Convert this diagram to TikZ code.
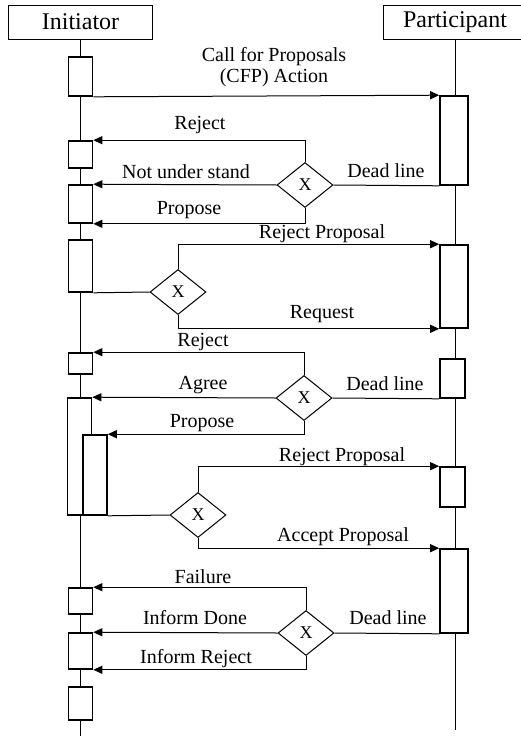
\documentclass[tikz,border=0pt]{standalone}
\usepackage{fontspec}
\setmainfont{Liberation Serif}
\usetikzlibrary{shapes.geometric,arrows.meta}
\tikzset{
    actor/.style={draw, line width=0.8pt, minimum width=144pt, minimum height=34pt, inner sep=0, font=\fontsize{24}{26}\selectfont},
    act/.style={draw, fill=white, line width=1.6pt, minimum width=24pt, inner sep=0},
    pact/.style={act, minimum width=28pt},
    gate/.style={draw, diamond, fill=white, line width=1pt, minimum width=56pt, minimum height=45pt, inner sep=0, font=\fontsize{18}{20}\selectfont},
    msg/.style={line width=1pt, -{Triangle[length=9pt,width=8pt]}},
    lbl/.style={anchor=base, inner sep=0, yshift=#1, font=\fontsize{20}{22}\selectfont},
    lbl/.default=7pt
}
\begin{document}
\begin{tikzpicture}[x=1pt, y=-1pt]
    \useasboundingbox (0,0) rectangle (520,736);
    \node[actor] (ini) at (80.5,22) {Initiator};
    \node[actor] (par) at (455,22) {Participant};
    \coordinate (iend) at (80.5,736);
    \coordinate (pend) at (455,730);
    \draw[line width=1pt] (ini.south) -- (iend);
    \draw[line width=1pt] (par.south) -- (pend);
    \node[act, minimum height=39pt] (i1) at (80.5,76.5) {};
    \node[act, minimum height=27pt] (i2) at (80.5,154.5) {};
    \node[act, minimum height=38pt] (i3) at (80.5,204) {};
    \node[act, minimum height=52pt] (i4) at (80.5,266) {};
    \node[act, minimum height=21pt] (i5) at (80.5,363.5) {};
    \node[act, minimum height=117pt] (i6) at (79.5,456.5) {};
    \node[act, minimum height=80pt] (i7) at (95,475) {};
    \node[act, minimum height=26pt] (i8) at (80.5,601) {};
    \node[act, minimum height=36pt] (i9) at (80.5,651) {};
    \node[act, minimum height=33pt] (i10) at (80.5,703.5) {};
    \node[pact, minimum height=89pt] (p1) at (454,140.5) {};
    \node[pact, minimum height=83pt] (p2) at (454,286.5) {};
    \node[pact, minimum width=25pt, minimum height=39pt] (p3) at (452.5,378.5) {};
    \node[pact, minimum width=25pt, minimum height=40pt] (p4) at (452.5,487) {};
    \node[pact, minimum height=84pt] (p5) at (454,591) {};
    \node[gate] (d1) at (305,185) {X};
    \node[gate] (d2) at (178,292) {X};
    \node[gate] (d3) at (304,398) {X};
    \node[gate] (d4) at (198,515) {X};
    \node[gate] (d5) at (306,633) {X};
    \draw[msg] (i1.south east) -- (p1.north west);
    \draw[msg] (d1.north) |- (i2.north east);
    \draw[msg] (d1.west) -- (i3.north east);
    \draw[msg] (d1.south) |- (i3.south east);
    \draw[line width=1pt] (p1.south west) -- (d1.east);
    \draw[line width=1pt] (i4.south east) -- (d2.west);
    \draw[msg] (d2.north) |- (p2.north west);
    \draw[msg] (d2.south) |- (p2.south west);
    \draw[msg] (d3.north) |- (i5.north east);
    \draw[msg] (d3.west) -- (i6.north east);
    \draw[msg] (d3.south) |- (i7.north east);
    \draw[line width=1pt] (p3.south west) -- (d3.east);
    \draw[line width=1pt] (i7.south east) -- (d4.west);
    \draw[msg] (d4.north) |- (p4.north west);
    \draw[msg] (d4.south) |- (p5.north west);
    \draw[msg] (d5.north) |- (i8.north east);
    \draw[msg] (d5.west) -- (i9.north east);
    \draw[msg] (d5.south) |- (i9.south east);
    \draw[line width=1pt] (p5.south west) -- (d5.east);
    \node[lbl, align=center, anchor=center, yshift=-7pt, font=\fontsize{20}{21}\selectfont] (lcfp) at (274,67) {Call for Proposals\\(CFP) Action};
    \node[lbl=12pt] (lrej1) at (200,141) {Reject};
    \node[lbl] (lnus) at (186,185) {Not under stand};
    \node[lbl=9pt] (lpro1) at (189,223) {Propose};
    \node[lbl=8pt] (ldl1) at (386,185) {Dead line};
    \node[lbl] (lrp1) at (322,245) {Reject Proposal};
    \node[lbl=10pt] (lreq) at (322,328) {Request};
    \node[lbl] (lrej2) at (203,353) {Reject};
    \node[lbl=9pt] (lagr) at (203,398) {Agree};
    \node[lbl=8pt] (lpro2) at (202,435) {Propose};
    \node[lbl=8pt] (ldl2) at (385,398) {Dead line};
    \node[lbl=6pt] (lrp2) at (342,467) {Reject Proposal};
    \node[lbl=8pt] (lacc) at (343,549) {Accept Proposal};
    \node[lbl=5pt] (lfai) at (203,588) {Failure};
    \node[lbl=9pt] (lind) at (195,633) {Inform Done};
    \node[lbl] (linr) at (196,670) {Inform Reject};
    \node[lbl=9pt] (ldl3) at (388,633) {Dead line};
\end{tikzpicture}
\end{document}
